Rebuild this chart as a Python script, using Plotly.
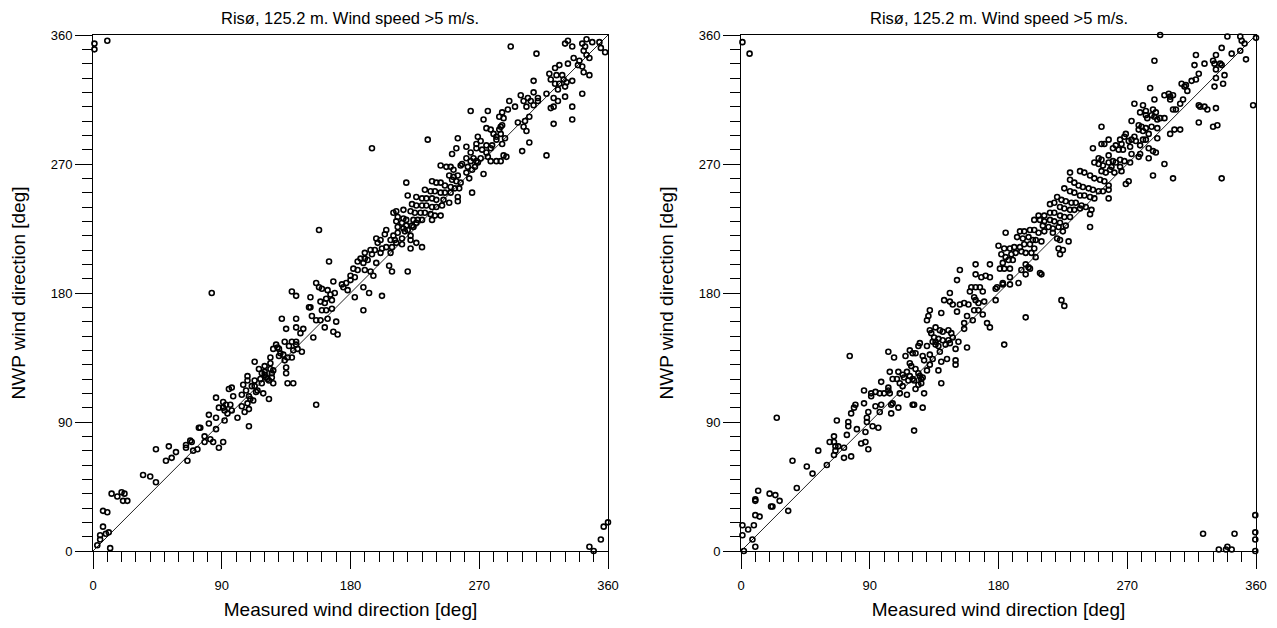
import plotly.graph_objects as go

title_text = "Risø, 125.2 m. Wind speed >5 m/s."
x_title = "Measured wind direction [deg]"
y_title = "NWP wind direction [deg]"
tick_values = [0, 90, 180, 270, 360]
diag_x = [0, 360]
diag_y = [0, 360]

# (measured, NWP) pairs in degrees, left panel
left_pairs = [
    (3,4),(12,2),(5,8),(5,11),(9,12),(11,13),(7,17),(7,28),(10,27),(13,40),(17,38),(20,41),(22,40),(21,35),(24,35),
    (35,53),(40,52),(44,48),(44,71),(51,63),(55,65),(53,73),(58,69),(65,74),(65,72),(66,63),(68,77),(69,76),(70,70),
    (73,71),(74,86),(75,86),(78,80),(78,76),(81,89),(81,95),(82,78),(84,76),(86,85),(86,93),(88,72),(91,76),(92,91),
    (86,107),(88,100),(91,104),(91,100),(92,98),(93,102),(94,96),(96,102),(95,113),(97,114),(97,98),(98,108),(101,93),
    (104,109),(104,101),(106,97),(105,116),(107,112),(108,103),(108,119),(108,122),(109,87),(109,99),(109,108),(110,106),
    (112,105),(111,115),(113,119),(113,132),(113,115),(114,111),(115,112),(116,127),(117,120),(118,117),(118,124),
    (119,110),(120,129),(120,123),(120,125),(121,121),(122,120),(123,119),(123,106),(124,127),(124,131),(125,124),
    (125,121),(126,117),(126,126),(124,135),(126,141),(128,144),(129,142),(130,136),(130,141),(131,138),(133,137),
    (134,133),(135,128),(135,124),(136,117),(140,117),(136,135),(137,143),(139,135),(140,140),(142,144),(143,141),
    (146,139),(134,146),(139,146),(142,146),
    (243,269),(247,268),(250,268),(252,266),(257,269),(258,270),(249,262),(252,261),(255,262),(251,259),(254,258),
    (257,257),(237,258),(240,257),(243,257),(246,255),(250,254),(253,253),(256,253),(219,257),(232,252),(236,251),
    (239,251),(243,250),(246,250),(250,250),(255,247),(255,244),(220,248),(226,247),(230,246),(233,246),(237,246),
    (240,245),(245,245),(249,243),(223,242),(226,241),(230,241),(233,241),(237,240),(240,240),(244,241),(212,237),
    (217,238),(222,237),(225,236),(229,236),(232,236),(236,235),(239,234),(243,234),(210,236),(213,233),(217,232),
    (219,231),(224,231),(227,231),(230,231),(237,231),(212,230),(216,229),(219,227),(223,227),(226,229),(213,226),
    (217,225),(220,224),(224,226),(158,224),(205,224),(204,221),(210,220),(213,222),(218,223),(222,220),(198,218),
    (201,217),(208,217),(211,217),(216,218),(222,217),(226,215),(230,212),(199,215),(202,211),(205,212),(209,212),
    (212,215),(216,214),(222,211),(194,210),(197,210),(208,208),(190,208),(195,207),(201,208),(187,204),(190,204),
    (192,203),(185,202),(189,201),(165,202),(198,201),(207,199),(209,195),(220,195),(182,197),(185,196),(190,196),
    (194,195),(196,192),(180,192),(183,191),(156,187),(158,184),(160,183),(168,188),(174,186),(177,187),(180,189),
    (175,184),(178,182),(139,181),(142,178),(152,177),(164,182),(166,179),(169,180),(163,176),(167,175),(159,174),
    (162,173),(189,184),(193,180),(183,177),(202,178),(151,170),(152,170),(160,168),(163,168),(167,169),(153,164),
    (164,162),(189,168),(132,162),(142,162),(156,161),(159,161),(170,160),(135,155),(142,156),(147,155),(145,152),
    (162,156),(168,153),(171,151),(154,149),
    (292,352),(310,347),(332,356),(330,354),(335,352),(345,357),(349,355),(342,354),(344,352),(354,355),(355,351),
    (358,348),(343,349),(345,346),(347,344),(336,344),(340,342),(339,339),(342,338),(343,334),(347,332),(332,340),
    (326,339),(323,337),(319,333),(324,332),(328,332),(320,329),(323,326),(326,326),(329,329),(331,327),(335,328),
    (330,324),(325,322),(308,328),(308,320),(317,319),(342,319),(299,318),(301,314),(304,316),(306,314),(311,316),
    (311,314),(322,316),(325,314),(330,317),(291,314),(295,310),(303,310),(308,311),(290,308),(286,306),(284,303),
    (287,302),(297,299),(305,303),(302,300),(301,296),(264,307),(276,307),(273,301),(286,297),(285,296),(275,295),
    (278,294),(280,291),(282,289),(284,294),(285,291),(282,287),(286,284),(279,283),(278,281),(275,283),(288,288),
    (305,285),(320,309),(322,310),(335,310),(335,301),(322,298),(303,293),(300,279),(317,276),(255,288),(269,289),
    (271,286),(268,284),(234,287),(254,281),(251,277),(261,282),(264,278),(268,281),(272,280),(275,278),(276,275),
    (278,272),(282,272),(285,272),(287,276),(289,275),(273,263),(265,250),(261,274),(264,272),(266,274),(268,272),
    (262,268),(265,266),(261,264),(263,260),(267,268),(269,271),(271,274),
    (195,281),(83,180),(156,102),(1,354),(1,350),(10,356),(347,3),(350,0),(355,8),(357,17),(360,20),
]

# (measured, NWP) pairs in degrees, right panel
right_pairs = [
    (2,0),(10,3),(8,8),(1,11),(5,15),(1,18),(9,18),(10,25),(13,24),(10,35),(10,36),(12,42),(20,40),(24,39),(21,31),
    (22,31),(27,35),(33,28),(39,44),(46,59),(50,54),(36,63),(25,93),(54,70),(60,60),(62,76),(65,76),(65,80),(66,73),
    (66,70),(65,67),(68,73),(72,72),(72,65),(77,66),(74,81),(75,87),(75,90),(67,91),(77,96),(79,100),(80,102),(81,85),
    (84,75),(87,76),(87,83),(89,71),(88,90),(88,93),(89,97),(86,103),(92,87),(96,86),(86,112),(91,110),(91,108),
    (94,111),(97,110),(100,110),(98,118),(94,101),(97,97),(98,102),(103,114),(103,112),(104,110),(104,125),(105,96),
    (105,102),(106,103),(107,135),(110,125),(110,100),(106,120),(109,120),(111,117),(111,110),(113,115),(114,121),
    (116,125),(116,109),(118,131),(119,129),(120,102),(121,102),(120,138),(121,84),(122,113),(124,116),(124,124),
    (125,122),(126,120),(127,100),(127,121),(128,110),(126,117),(128,133),(130,126),(132,130),(134,134),(138,126),
    (140,117),(140,132),(144,134),(115,136),(118,140),(122,138),(124,143),(125,145),(127,136),(130,143),(132,137),
    (136,144),(138,143),(139,139),(143,144),(146,145),(134,146),(136,146),(103,139),(76,136),(118,122),(120,120),
    (121,119),(122,127),(117,119),(113,123),
    (247,271),(250,270),(253,269),(257,271),(259,268),(252,265),(255,264),(258,266),(230,264),(237,265),(240,264),
    (244,262),(247,260),(251,259),(254,258),(257,255),(230,259),(233,257),(236,255),(239,254),(243,253),(246,252),
    (250,251),(253,251),(257,252),(257,246),(226,253),(230,251),(233,250),(237,248),(240,248),(244,247),(247,246),
    (221,247),(224,245),(227,244),(231,243),(234,243),(238,241),(241,240),(245,238),(244,235),(244,226),(216,242),
    (219,243),(223,240),(226,239),(230,238),(233,238),(237,239),(208,234),(212,234),(216,236),(219,236),(223,234),
    (226,233),(230,233),(205,231),(209,231),(212,230),(216,231),(219,230),(223,229),(227,227),(211,227),(215,226),
    (218,225),(222,226),(225,223),(185,222),(195,223),(198,223),(202,224),(205,224),(208,222),(212,223),(218,222),
    (221,218),(223,217),(229,216),(193,219),(197,218),(201,219),(204,217),(206,217),(210,216),(225,210),(180,213),
    (184,211),(188,211),(191,212),(195,212),(198,214),(202,214),(205,211),(222,211),(223,207),(182,207),(185,205),
    (189,207),(192,208),(196,209),(199,208),(203,208),(206,205),(183,201),(187,203),(190,203),(181,197),(184,197),
    (188,197),(199,200),(201,198),(202,197),(196,196),(199,193),(209,194),(210,193),(153,196),(164,200),(174,200),
    (164,193),(168,191),(171,192),(174,191),(151,189),(161,184),(164,184),(167,184),(179,184),(183,187),(188,191),
    (194,187),(188,186),(178,183),(183,186),(146,180),(160,181),(169,181),(142,175),(146,174),(148,172),(153,172),
    (156,173),(159,172),(163,177),(164,175),(166,173),(178,175),(170,174),(224,175),(226,171),(151,167),(158,164),
    (162,161),(163,168),(166,168),(169,165),(199,163),(132,168),(131,164),(130,161),(140,166),(156,159),(172,159),
    (174,156),(136,156),(139,154),(141,153),(145,154),(147,152),(132,154),(133,152),(135,149),(138,148),(141,147),
    (145,147),(148,149),(156,155),(184,144),(158,142),(152,146),(150,141),(150,133),(150,130),
    (293,360),(340,359),(349,359),(350,356),(352,354),(360,358),(358,311),(336,351),(343,347),(349,349),(353,343),
    (332,346),(330,342),(331,340),(335,340),(336,339),(332,336),(338,332),(332,330),(337,326),(331,324),(324,340),
    (318,346),(317,339),(320,333),(315,328),(318,329),(311,325),(308,326),(310,324),(312,321),(289,342),(286,323),
    (296,318),(299,319),(300,317),(300,315),(302,318),(309,315),(307,312),(304,308),(302,308),(275,312),(281,311),
    (289,315),(279,306),(283,307),(288,308),(290,306),(293,302),(296,302),(283,304),(284,302),(287,304),(289,303),
    (291,301),(273,300),(252,296),(278,297),(280,296),(283,295),(278,294),(281,293),(285,291),(287,296),(291,295),
    (300,291),(303,294),(307,294),(320,311),(321,310),(324,310),(326,308),(332,309),(320,299),(330,296),(333,297),
    (257,287),(265,287),(268,289),(269,291),(271,286),(266,284),(262,283),(252,284),(254,284),(273,287),(275,289),
    (276,286),(281,287),(283,287),(279,283),(285,281),(288,279),(290,278),(291,288),(246,281),(257,276),(260,281),
    (264,280),(267,280),(272,282),(273,277),(279,277),(285,274),(250,274),(252,273),(260,272),(262,271),(265,273),
    (268,272),(272,271),(278,275),(265,268),(261,264),(266,265),(269,256),(271,258),(288,262),(296,270),(302,260),
    (336,260),
    (1,355),(6,347),(323,12),(345,12),(334,1),(339,1),(340,3),(343,1),(359.5,25),(359.5,13),(359.5,8),(359.5,0),
]

left_measured = [p[0] for p in left_pairs]
left_nwp = [p[1] for p in left_pairs]
right_measured = [p[0] for p in right_pairs]
right_nwp = [p[1] for p in right_pairs]

FONT = "Arial, 'Liberation Sans', sans-serif"
W, H = 1277, 628

fig = go.Figure()
panels = [("x", "y", left_measured, left_nwp), ("x2", "y2", right_measured, right_nwp)]
for xa, ya, xs, ys in panels:
    fig.add_trace(go.Scatter(x=diag_x, y=diag_y, mode="lines", xaxis=xa, yaxis=ya,
                             line=dict(color="#222222", width=1), showlegend=False, hoverinfo="skip"))
    fig.add_trace(go.Scatter(x=xs, y=ys, mode="markers", xaxis=xa, yaxis=ya, cliponaxis=False,
                             marker=dict(symbol="circle-open", size=5, color="black", line=dict(width=1.6)),
                             showlegend=False))

def axis(domain, anchor, title, standoff, label_standoff):
    return dict(
        domain=domain, anchor=anchor, range=[0, 360], tickmode="array", tickvals=tick_values,
        ticks="outside", ticklen=17, tickwidth=1, tickcolor="black", ticklabelstandoff=label_standoff,
        showline=True, linecolor="black", linewidth=1, mirror=True, automargin=False,
        showgrid=False, zeroline=False, tickfont=dict(family=FONT, size=13, color="black"),
        minor=dict(tickmode="linear", tick0=0, dtick=10, ticks="outside", ticklen=10,
                   tickwidth=1, tickcolor="black", showgrid=False),
        title=dict(text=title, font=dict(family=FONT, size=19, color="black"), standoff=standoff),
        fixedrange=True,
    )

ydom = [(H - 551) / H, (H - 35) / H]
xd1 = [93 / W, 608 / W]
xd2 = [741 / W, 1256 / W]

fig.update_layout(
    template="none",
    width=W, height=H,
    margin=dict(l=0, r=0, t=0, b=0, autoexpand=False),
    paper_bgcolor="white", plot_bgcolor="white",
    font=dict(family=FONT, color="black"),
    xaxis=axis(xd1, "y", x_title, 11, 5),
    yaxis=axis(ydom, "x", y_title, 20, 0),
    xaxis2=axis(xd2, "y2", x_title, 11, 5),
    yaxis2=axis(ydom, "x2", y_title, 20, 0),
    annotations=[
        dict(text=title_text, x=(xd[0] + xd[1]) / 2, y=1 - 18 / H, xref="paper", yref="paper",
             xanchor="center", yanchor="middle", showarrow=False,
             font=dict(family=FONT, size=16.5, color="black"))
        for xd in (xd1, xd2)
    ],
)

fig.write_html("out.html")
